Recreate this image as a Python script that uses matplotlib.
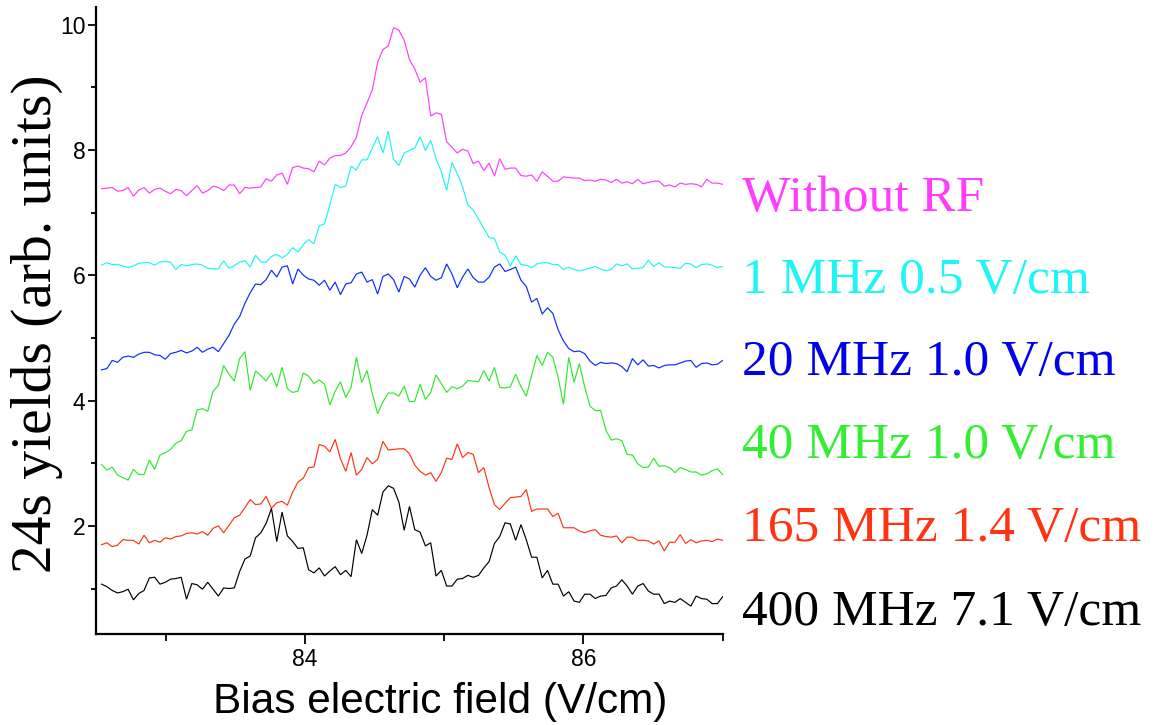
import numpy as np
import matplotlib
matplotlib.use("Agg")
import matplotlib.pyplot as plt
from matplotlib.ticker import MultipleLocator
from matplotlib import font_manager

# ---- data ----
x_start = 82.54
x_step = 0.03812

labels = ["Without RF", "1 MHz 0.5 V/cm", "20 MHz 1.0 V/cm",
          "40 MHz 1.0 V/cm", "165 MHz 1.4 V/cm", "400 MHz 7.1 V/cm"]
colors = ["#ff3cff", "#1ef5f5", "#0a2aff", "#2fe82f", "#ff3311", "#000000"]

without_rf = [
    7.38, 7.39, 7.40, 7.34, 7.35, 7.40, 7.26, 7.36, 7.40, 7.31,
    7.37, 7.39, 7.34, 7.30, 7.37, 7.35, 7.27, 7.35, 7.43, 7.31,
    7.35, 7.42, 7.40, 7.35, 7.44, 7.44, 7.30, 7.40, 7.39, 7.40,
    7.41, 7.54, 7.50, 7.60, 7.63, 7.45, 7.72, 7.74, 7.71, 7.70,
    7.65, 7.82, 7.76, 7.87, 7.91, 7.91, 7.95, 8.05, 8.20, 8.55,
    8.75, 8.96, 9.40, 9.60, 9.66, 9.95, 9.91, 9.75, 9.44, 9.29,
    9.08, 9.15, 8.54, 8.59, 8.57, 8.13, 8.04, 7.95, 8.01, 7.98,
    7.78, 7.82, 7.67, 7.79, 7.58, 7.86, 7.69, 7.71, 7.71, 7.59,
    7.58, 7.60, 7.50, 7.65, 7.58, 7.50, 7.50, 7.57, 7.56, 7.55,
    7.55, 7.51, 7.52, 7.50, 7.53, 7.52, 7.48, 7.53, 7.47, 7.49,
    7.46, 7.53, 7.46, 7.48, 7.50, 7.50, 7.42, 7.44, 7.41, 7.47,
    7.45, 7.46, 7.45, 7.41, 7.53, 7.47, 7.47, 7.45]

mhz1 = [
    6.16, 6.20, 6.17, 6.17, 6.15, 6.12, 6.15, 6.19, 6.20, 6.20,
    6.16, 6.21, 6.22, 6.21, 6.09, 6.17, 6.15, 6.17, 6.18, 6.16,
    6.11, 6.10, 6.10, 6.23, 6.11, 6.15, 6.21, 6.23, 6.13, 6.32,
    6.21, 6.21, 6.30, 6.33, 6.28, 6.33, 6.44, 6.37, 6.49, 6.57,
    6.50, 6.79, 6.82, 7.12, 7.45, 7.40, 7.42, 7.74, 7.68, 7.84,
    7.84, 8.03, 8.21, 7.95, 8.30, 7.85, 7.75, 7.95, 7.99, 8.03,
    8.21, 7.99, 8.15, 7.86, 7.65, 7.35, 7.80, 7.62, 7.41, 7.12,
    7.04, 6.90, 6.75, 6.60, 6.59, 6.37, 6.32, 6.15, 6.31, 6.17,
    6.16, 6.12, 6.18, 6.20, 6.20, 6.17, 6.17, 6.09, 6.13, 6.09,
    6.07, 6.09, 6.11, 6.14, 6.10, 6.07, 6.09, 6.18, 6.15, 6.18,
    6.10, 6.11, 6.12, 6.24, 6.14, 6.20, 6.13, 6.13, 6.12, 6.11,
    6.19, 6.18, 6.12, 6.17, 6.18, 6.16, 6.12, 6.14]

mhz20 = [
    4.49, 4.51, 4.64, 4.61, 4.69, 4.71, 4.69, 4.74, 4.77, 4.77,
    4.73, 4.72, 4.66, 4.75, 4.77, 4.80, 4.76, 4.79, 4.85, 4.77,
    4.82, 4.85, 4.78, 4.91, 5.04, 5.22, 5.34, 5.55, 5.72, 5.86,
    5.85, 5.93, 6.08, 5.97, 6.13, 6.15, 5.86, 6.10, 6.00, 5.94,
    5.92, 5.84, 5.92, 5.76, 5.89, 5.69, 5.86, 5.88, 6.02, 6.05,
    5.89, 5.93, 5.70, 5.98, 6.02, 5.93, 5.73, 5.98, 5.94, 5.81,
    6.00, 6.12, 5.98, 5.92, 5.96, 6.18, 6.02, 5.80, 5.97, 6.10,
    5.96, 5.89, 5.89, 5.97, 6.13, 6.18, 6.06, 6.09, 6.13, 5.92,
    5.82, 5.57, 5.63, 5.38, 5.48, 5.39, 5.13, 4.95, 4.83, 4.78,
    4.79, 4.75, 4.63, 4.56, 4.61, 4.59, 4.60, 4.59, 4.54, 4.46,
    4.67, 4.57, 4.65, 4.55, 4.56, 4.52, 4.56, 4.57, 4.57, 4.60,
    4.63, 4.64, 4.53, 4.59, 4.60, 4.57, 4.58, 4.64]

mhz40 = [
    2.98, 2.89, 2.94, 2.81, 2.77, 2.73, 2.90, 2.82, 2.82, 3.05,
    2.90, 3.13, 3.17, 3.22, 3.32, 3.36, 3.51, 3.53, 3.85, 3.87,
    3.83, 4.15, 4.24, 4.56, 4.42, 4.31, 4.67, 4.78, 4.16, 4.47,
    4.40, 4.31, 4.44, 4.22, 4.53, 4.19, 4.13, 4.15, 4.44, 4.39,
    4.27, 4.33, 4.26, 3.93, 4.15, 4.30, 4.05, 4.21, 4.69, 4.29,
    4.48, 4.11, 3.79, 3.98, 4.12, 4.12, 4.07, 4.23, 3.98, 3.99,
    4.26, 4.02, 4.13, 4.41, 4.27, 4.13, 4.22, 4.19, 4.23, 4.32,
    4.31, 4.30, 4.48, 4.31, 4.53, 4.21, 4.20, 4.22, 4.42, 4.22,
    4.07, 4.40, 4.72, 4.56, 4.77, 4.69, 4.37, 3.94, 4.69, 4.29,
    4.59, 4.22, 3.91, 3.84, 3.84, 3.53, 3.37, 3.39, 3.36, 3.14,
    3.13, 2.99, 2.93, 2.94, 3.08, 2.95, 2.96, 2.93, 2.85, 2.93,
    2.90, 2.86, 2.86, 2.81, 2.83, 2.88, 2.91, 2.82]

mhz165 = [
    1.70, 1.73, 1.67, 1.69, 1.78, 1.77, 1.77, 1.71, 1.85, 1.73,
    1.77, 1.74, 1.81, 1.79, 1.83, 1.84, 1.88, 1.89, 1.87, 1.91,
    1.85, 1.96, 2.00, 1.89, 2.01, 2.13, 2.17, 2.29, 2.42, 2.34,
    2.35, 2.47, 2.28, 2.37, 2.39, 2.33, 2.54, 2.70, 2.76, 2.93,
    2.94, 3.30, 3.27, 3.18, 3.38, 3.07, 2.87, 3.17, 2.81, 2.90,
    3.09, 2.99, 3.06, 3.35, 3.21, 3.22, 3.23, 3.23, 3.15, 2.97,
    2.87, 2.81, 2.85, 2.71, 2.85, 3.08, 3.06, 3.31, 3.09, 3.17,
    3.14, 2.85, 2.93, 2.61, 2.34, 2.26, 2.36, 2.45, 2.46, 2.47,
    2.58, 2.23, 2.27, 2.27, 2.27, 2.15, 2.20, 1.97, 1.97, 1.97,
    1.92, 1.89, 1.92, 1.94, 1.85, 1.83, 1.82, 1.84, 1.73, 1.82,
    1.82, 1.77, 1.77, 1.76, 1.71, 1.76, 1.60, 1.74, 1.74, 1.86,
    1.72, 1.78, 1.73, 1.76, 1.77, 1.75, 1.79, 1.77]

mhz400 = [
    1.07, 1.03, 0.97, 0.93, 0.95, 0.99, 0.82, 0.92, 0.97, 1.17,
    1.18, 1.07, 1.10, 1.15, 1.16, 1.18, 0.83, 1.08, 1.06, 0.99,
    1.10, 0.99, 0.88, 1.01, 1.00, 1.01, 1.27, 1.47, 1.52, 1.81,
    1.89, 2.04, 2.28, 1.75, 2.22, 1.84, 1.75, 1.64, 1.65, 1.30,
    1.25, 1.33, 1.20, 1.28, 1.35, 1.22, 1.29, 1.19, 1.78, 1.56,
    1.85, 2.26, 2.17, 2.54, 2.64, 2.60, 2.38, 1.93, 2.31, 1.94,
    1.90, 1.68, 1.73, 1.20, 1.29, 1.04, 1.04, 1.15, 1.16, 1.21,
    1.18, 1.21, 1.33, 1.43, 1.72, 1.83, 2.05, 2.03, 1.77, 2.02,
    1.78, 1.50, 1.50, 1.17, 1.29, 1.07, 1.07, 0.88, 0.95, 0.80,
    0.78, 0.91, 0.91, 0.84, 0.88, 0.89, 1.01, 1.04, 1.14, 1.04,
    0.91, 1.04, 1.08, 0.96, 0.91, 0.91, 0.76, 0.80, 0.78, 0.84,
    0.78, 0.72, 0.88, 0.84, 0.83, 0.76, 0.76, 0.87]

series = [without_rf, mhz1, mhz20, mhz40, mhz165, mhz400]
label_baselines_px = [211, 293, 375, 458, 541, 625]

x_ticks_major = [84, 86]
y_ticks_major = [2, 4, 6, 8, 10]

# condensed sans if available
installed = {f.name for f in font_manager.fontManager.ttflist}
narrow = "Liberation Sans Narrow" in installed
sans_fam = ["Liberation Sans Narrow", "Liberation Sans"] if narrow else ["Liberation Sans"]
tick_fs = 18 if narrow else 16.5
xlab_fs = 37 if narrow else 30.5

# ---- figure ----
W, H = 1157, 725
fig = plt.figure(figsize=(W / 100, H / 100), dpi=100)
ax = fig.add_axes([96 / W, 1 - 634.3 / H, (722.7 - 96) / W, (634.3 - 7) / H])

for vals, col in zip(series, colors):
    y = np.array(vals)
    x = x_start + x_step * np.arange(len(y))
    ax.plot(x, y, color=col, lw=0.85, solid_joinstyle="miter")

ax.set_xlim(82.5, 87.0)
ax.set_ylim(0.27, 10.28)
ax.set_xticks(x_ticks_major)
ax.set_yticks(y_ticks_major)
ax.xaxis.set_minor_locator(MultipleLocator(1))
ax.yaxis.set_minor_locator(MultipleLocator(1))

for s in ["top", "right"]:
    ax.spines[s].set_visible(False)
for s in ["left", "bottom"]:
    ax.spines[s].set_linewidth(1.6)

ax.tick_params(axis="x", which="major", direction="out", length=7, width=1.3,
               labelsize=tick_fs, pad=3)
ax.tick_params(axis="x", which="minor", direction="out", length=5, width=1.3)
ax.tick_params(axis="y", which="major", direction="out", length=5.5, width=1.3,
               labelsize=tick_fs, pad=2)
ax.tick_params(axis="y", which="minor", direction="out", length=3.5, width=1.3)
for lab in ax.get_xticklabels() + ax.get_yticklabels():
    lab.set_fontfamily(sans_fam)
    lab.set_fontsize(tick_fs)

# series labels to the right
for lab, col, yb in zip(labels, colors, label_baselines_px):
    tcol = {"#0a2aff": "#0000ee", "#2fe82f": "#33ee33"}.get(col, col)
    fig.text(742 / W, 1 - yb / H, lab, color=tcol, fontsize=37,
             fontfamily="Liberation Serif", ha="left", va="baseline")

fig.text(37 / W, 1 - 323.5 / H, "24s yields (arb. units)", rotation=90,
         fontsize=41.4, fontfamily="Liberation Serif", ha="center", va="center")
fig.text(440 / W, 1 - 713 / H, "Bias electric field (V/cm)",
         fontsize=xlab_fs, fontfamily=sans_fam, ha="center", va="baseline")

fig.savefig("out.png", dpi=100)
